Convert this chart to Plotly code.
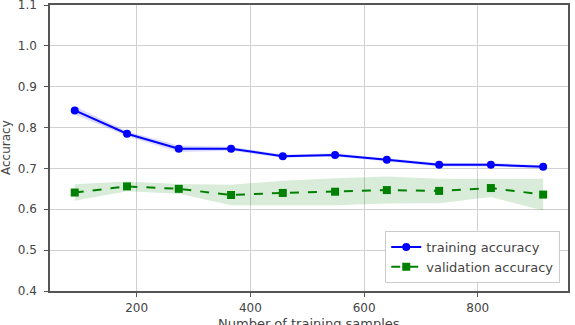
import plotly.graph_objects as go

train_sizes = [91, 183, 274, 366, 457, 549, 640, 732, 823, 915]
train_mean = [0.842, 0.785, 0.748, 0.748, 0.730, 0.733, 0.721, 0.709, 0.709, 0.704]
train_std = [0.010, 0.006, 0.008, 0.005, 0.004, 0.004, 0.004, 0.004, 0.004, 0.004]
val_mean = [0.641, 0.656, 0.650, 0.635, 0.640, 0.643, 0.647, 0.645, 0.652, 0.636]
val_std = [0.020, 0.012, 0.012, 0.025, 0.030, 0.033, 0.033, 0.030, 0.022, 0.039]

x_ticks = [200, 400, 600, 800]
y_ticks = [0.4, 0.5, 0.6, 0.7, 0.8, 0.9, 1.0, 1.1]

FONT = "DejaVu Sans"
TXT = "#444"

fig = go.Figure()

def band(mean, std, color):
    upper = [m + s for m, s in zip(mean, std)]
    lower = [m - s for m, s in zip(mean, std)]
    return go.Scatter(
        x=train_sizes + train_sizes[::-1],
        y=upper + lower[::-1],
        fill="toself", fillcolor=color, line=dict(width=0),
        mode="lines", showlegend=False, hoverinfo="skip",
    )

fig.add_trace(band(train_mean, train_std, "rgba(0,0,255,0.15)"))
fig.add_trace(band(val_mean, val_std, "rgba(0,128,0,0.15)"))

fig.add_trace(go.Scatter(
    x=train_sizes, y=train_mean, mode="lines+markers",
    name="training accuracy",
    line=dict(color="blue", width=2),
    marker=dict(symbol="circle", size=8, color="blue"),
))
fig.add_trace(go.Scatter(
    x=train_sizes, y=val_mean, mode="lines+markers",
    name="validation accuracy",
    line=dict(color="green", width=2, dash="dash"),
    marker=dict(symbol="square", size=8, color="green"),
))

axis_common = dict(
    showline=True, linecolor="#555", linewidth=1.5, mirror=True,
    showgrid=True, gridcolor="#d0d0d0", gridwidth=1,
    ticks="outside", ticklen=4, tickcolor="#555",
    tickfont=dict(family=FONT, size=12, color=TXT),
    zeroline=False, automargin=False, ticklabeloverflow="allow",
)

fig.update_xaxes(
    range=[47.5, 958.7], tickvals=x_ticks, ticktext=[str(v) for v in x_ticks],
    ticklabelstandoff=1,
    **axis_common,
)
fig.update_yaxes(
    range=[0.4, 1.1], tickvals=y_ticks, ticktext=[f"{v:.1f}" for v in y_ticks],
    ticklabelstandoff=5,
    **axis_common,
)

fig.add_annotation(
    text="Number of training samples", xref="paper", yref="paper",
    x=0.5, y=0, yshift=-32, xanchor="center", yanchor="middle",
    showarrow=False, font=dict(family=FONT, size=13, color=TXT),
)
fig.add_annotation(
    text="Accuracy", xref="paper", yref="paper",
    x=0, y=0.5, xshift=-44, xanchor="center", yanchor="middle", textangle=-90,
    showarrow=False, font=dict(family=FONT, size=12, color=TXT),
)

fig.update_layout(
    width=575, height=325,
    margin=dict(l=50, r=7, t=5, b=34),
    plot_bgcolor="white", paper_bgcolor="white",
    legend=dict(
        x=0.985, y=0.028, xanchor="right", yanchor="bottom",
        bgcolor="white", bordercolor="#ccc", borderwidth=1,
        font=dict(family=FONT, size=13, color=TXT),
        tracegroupgap=0, itemwidth=30,
    ),
)

fig.write_html("out.html")
